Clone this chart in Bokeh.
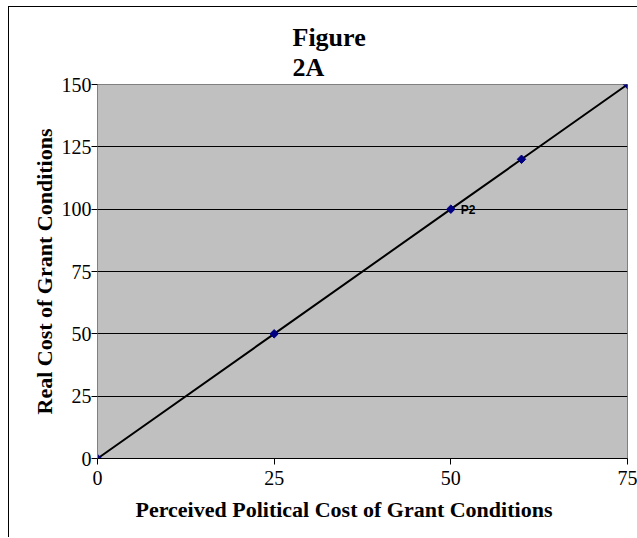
import math
from bokeh.plotting import figure
from bokeh.models import FixedTicker, Title, ColumnDataSource
from bokeh.embed import file_html
from bokeh.resources import INLINE
from bokeh.core.properties import value

# data
x_vals = [0, 25, 50, 60, 75]
y_vals = [0, 50, 100, 120, 150]
point_labels = ["", "", "P2", "", ""]
x_ticks = [0, 25, 50, 75]
y_ticks = [0, 25, 50, 75, 100, 125, 150]
title_lines = ["Figure", "2A"]
x_title = "Perceived Political Cost of Grant Conditions"
y_title = "Real Cost of Grant Conditions"

p = figure(width=628, height=530, output_backend="svg", toolbar_location=None,
           x_range=(0, 75), y_range=(0, 150),
           frame_width=530, frame_height=374,
           min_border_left=88, min_border_right=10, min_border_top=77, min_border_bottom=79)
p.styles = {"border-left": "1px solid black", "border-top": "1px solid black",
            "margin-left": "8px", "margin-top": "6px"}

p.background_fill_color = "#C0C0C0"
p.border_fill_color = "white"
p.outline_line_color = "#808080"
p.outline_line_width = 1

p.xgrid.grid_line_color = None
p.ygrid.grid_line_color = "black"
p.ygrid.grid_line_width = 1
p.ygrid.ticker = FixedTicker(ticks=y_ticks)

for ax, ticks in ((p.xaxis[0], x_ticks), (p.yaxis[0], y_ticks)):
    ax.ticker = FixedTicker(ticks=ticks)
    ax.major_label_text_font = "Liberation Serif"
    ax.major_label_text_font_size = "20px"
    ax.major_label_text_color = "black"
    ax.axis_label_text_font = "Liberation Serif"
    ax.axis_label_text_font_style = "bold"
    ax.axis_label_text_font_size = "22px"
    ax.axis_label_text_color = "black"
    ax.major_tick_in = 0
    ax.major_tick_out = 6
    ax.minor_tick_line_color = None
    ax.major_tick_line_color = "black"

p.yaxis.axis_label = y_title
p.xaxis.axis_line_color = "black"
p.yaxis.axis_line_color = "#808080"
p.xaxis.major_label_standoff = 6
p.yaxis.major_label_standoff = 0
p.yaxis.axis_label_standoff = 2

src = ColumnDataSource(dict(x=x_vals, y=y_vals, lab=point_labels))
p.line("x", "y", source=src, line_color="black", line_width=2)
p.scatter("x", "y", source=src, marker="square", angle=math.pi / 4, size=6,
          fill_color="#000080", line_color="#000080")
p.text("x", "y", text="lab", source=src, x_offset=10, y_offset=1,
       text_font=value("Liberation Sans"), text_font_style="bold", text_font_size="12px",
       text_baseline="middle", text_align="left", text_color="black")

p.title = None
p.add_layout(Title(text="\n".join(title_lines), align="left", offset=195, standoff=5,
                   text_line_height=1.03,
                   text_font="Liberation Serif", text_font_style="bold",
                   text_font_size="26px", text_color="black"), "above")
p.add_layout(Title(text=x_title, align="left", offset=38, standoff=14,
                   text_font="Liberation Serif", text_font_style="bold",
                   text_font_size="22px", text_color="black"), "below")

open("out.html", "w").write(file_html(p, INLINE))
